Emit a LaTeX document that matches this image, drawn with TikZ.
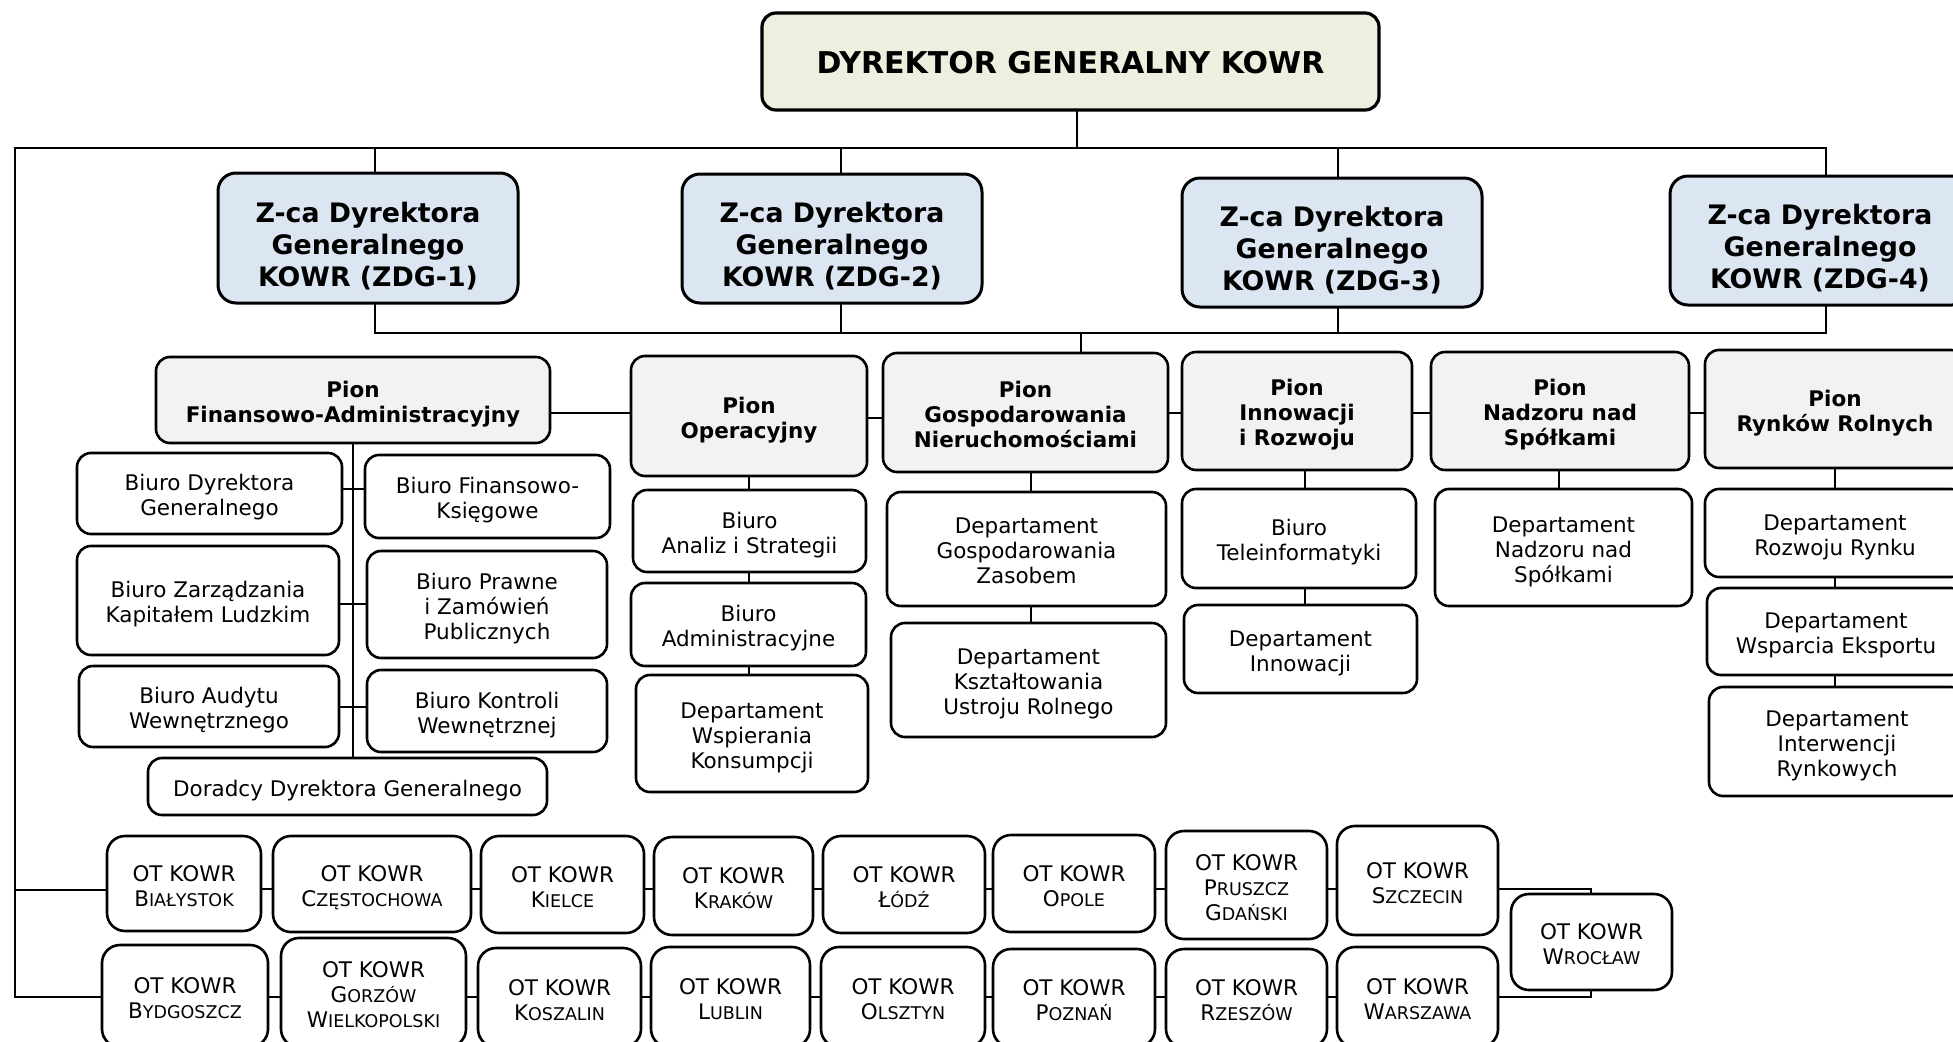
\documentclass[tikz,border=0pt]{standalone}
\usepackage{fontspec}
\setmainfont{DejaVu Sans}
\usetikzlibrary{calc}
\definecolor{dgfill}{HTML}{EBF1DE}
\definecolor{zfill}{HTML}{DCE6F2}
\definecolor{pfill}{HTML}{F2F2F2}
\newcommand\SC[2]{#1{\fontsize{17.5}{25}\selectfont #2}}
\def\tsh{4.5pt}
\newcommand\bx[7]{\node[#6, minimum width={#4-#2}, minimum height={#5-#3}] (#1) at ({(#2+#4)/2},{(#3+#5)/2}) {\raisebox{-\tsh}[\height][\depth]{\begin{tabular}{@{}c@{}}#7\end{tabular}}};}
\tikzset{
  box/.style={draw, line width=2.6pt, rounded corners=14pt, fill=white, inner sep=0pt, font=\fontsize{21.5}{25}\selectfont},
  dgbox/.style={box, fill=dgfill, line width=3.2pt, font=\fontsize{30}{36}\selectfont\bfseries, execute at begin node={\def\tsh{5pt}}},
  zbox/.style={box, fill=zfill, line width=3pt, rounded corners=18pt, font=\fontsize{26.8}{32}\selectfont\bfseries, execute at begin node={\def\tsh{10pt}}},
  pbox/.style={box, fill=pfill, font=\fontsize{21.5}{25}\selectfont\bfseries},
  otbox/.style={box, rounded corners=18pt, execute at begin node={\def\tsh{5pt}}},
  conn/.style={line width=2.2pt, line cap=rect}
}
\begin{document}
\begin{tikzpicture}[x=1pt,y=-1pt]
\useasboundingbox (0,0) rectangle (1953,1041);
\clip (0,0) rectangle (1953,1041);
% boxes
\bx{dg}{762}{13}{1379}{110}{dgbox}{DYREKTOR GENERALNY KOWR}
\bx{z1}{218}{173}{518}{303}{zbox}{Z-ca Dyrektora\\Generalnego\\KOWR (ZDG-1)}
\bx{z2}{682}{174}{982}{303}{zbox}{Z-ca Dyrektora\\Generalnego\\KOWR (ZDG-2)}
\bx{z3}{1182}{178}{1482}{307}{zbox}{Z-ca Dyrektora\\Generalnego\\KOWR (ZDG-3)}
\bx{z4}{1670}{176}{1970}{305}{zbox}{Z-ca Dyrektora\\Generalnego\\KOWR (ZDG-4)}
\bx{fa}{156}{357}{550}{443}{pbox}{Pion\\Finansowo-Administracyjny}
\bx{op}{631}{356}{867}{476}{pbox}{Pion\\Operacyjny}
\bx{gn}{883}{353}{1168}{472}{pbox}{Pion\\Gospodarowania\\Nieruchomościami}
\bx{ir}{1182}{352}{1412}{470}{pbox}{Pion\\Innowacji\\i Rozwoju}
\bx{nd}{1431}{352}{1689}{470}{pbox}{Pion\\Nadzoru nad\\Spółkami}
\bx{rr}{1705}{350}{1965}{468}{pbox}{Pion\\Rynków Rolnych}
\bx{bdg}{77}{453}{342}{534}{box}{Biuro Dyrektora\\Generalnego}
\bx{bfk}{365}{455}{610}{538}{box}{Biuro Finansowo-\\Księgowe}
\bx{bzk}{77}{546}{339}{655}{box}{Biuro Zarządzania\\Kapitałem Ludzkim}
\bx{bpz}{367}{551}{607}{658}{box}{Biuro Prawne\\i Zamówień\\Publicznych}
\bx{bau}{79}{666}{339}{747}{box}{Biuro Audytu\\Wewnętrznego}
\bx{bkw}{367}{670}{607}{752}{box}{Biuro Kontroli\\Wewnętrznej}
\bx{ddg}{148}{758}{547}{815}{box}{Doradcy Dyrektora Generalnego}
\bx{bas}{633}{490}{866}{572}{box}{Biuro\\Analiz i Strategii}
\bx{badm}{631}{583}{866}{666}{box}{Biuro\\Administracyjne}
\bx{dwk}{636}{675}{868}{792}{box}{Departament\\Wspierania\\Konsumpcji}
\bx{dgz}{887}{492}{1166}{606}{box}{Departament\\Gospodarowania\\Zasobem}
\bx{dks}{891}{623}{1166}{737}{box}{Departament\\Kształtowania\\Ustroju Rolnego}
\bx{bti}{1182}{489}{1416}{588}{box}{Biuro\\Teleinformatyki}
\bx{din}{1184}{605}{1417}{693}{box}{Departament\\Innowacji}
\bx{dns}{1435}{489}{1692}{606}{box}{Departament\\Nadzoru nad\\Spółkami}
\bx{drr}{1705}{489}{1965}{577}{box}{Departament\\Rozwoju Rynku}
\bx{dwe}{1707}{588}{1965}{675}{box}{Departament\\Wsparcia Eksportu}
\bx{dir}{1709}{687}{1965}{796}{box}{Departament\\Interwencji\\Rynkowych}
% OT row 1
\bx{bia}{107}{836}{261}{931}{otbox}{OT KOWR\\\SC{B}{IAŁYSTOK}}
\bx{cze}{273}{836}{471}{932}{otbox}{OT KOWR\\\SC{C}{ZĘSTOCHOWA}}
\bx{kie}{481}{836}{644}{933}{otbox}{OT KOWR\\\SC{K}{IELCE}}
\bx{kra}{654}{837}{813}{935}{otbox}{OT KOWR\\\SC{K}{RAKÓW}}
\bx{lod}{823}{836}{985}{933}{otbox}{OT KOWR\\\SC{Ł}{ÓDŹ}}
\bx{opo}{993}{835}{1155}{932}{otbox}{OT KOWR\\\SC{O}{POLE}}
\bx{pru}{1166}{831}{1327}{939}{otbox}{OT KOWR\\\SC{P}{RUSZCZ}\\\SC{G}{DAŃSKI}}
\bx{szc}{1337}{826}{1498}{935}{otbox}{OT KOWR\\\SC{S}{ZCZECIN}}
\bx{wro}{1511}{894}{1672}{990}{otbox}{OT KOWR\\\SC{W}{ROCŁAW}}
% OT row 2
\bx{byd}{102}{945}{268}{1047}{otbox}{OT KOWR\\\SC{B}{YDGOSZCZ}}
\bx{gor}{281}{938}{466}{1047}{otbox}{OT KOWR\\\SC{G}{ORZÓW}\\\SC{W}{IELKOPOLSKI}}
\bx{kos}{478}{948}{641}{1047}{otbox}{OT KOWR\\\SC{K}{OSZALIN}}
\bx{lub}{651}{947}{810}{1047}{otbox}{OT KOWR\\\SC{L}{UBLIN}}
\bx{ols}{821}{947}{985}{1047}{otbox}{OT KOWR\\\SC{O}{LSZTYN}}
\bx{poz}{993}{949}{1155}{1047}{otbox}{OT KOWR\\\SC{P}{OZNAŃ}}
\bx{rze}{1166}{949}{1327}{1047}{otbox}{OT KOWR\\\SC{R}{ZESZÓW}}
\bx{war}{1337}{947}{1498}{1047}{otbox}{OT KOWR\\\SC{W}{ARSZAWA}}
% coordinates
\coordinate (busL) at (15,148);
\coordinate (busR) at (1826,148);
\coordinate (t1) at (375,148);
\coordinate (t2) at (841,148);
\coordinate (t3) at (1338,148);
\coordinate (t4) at (1826,148);
\coordinate (dgj) at (1077,148);
\coordinate (b1) at (375,333);
\coordinate (b4) at (1826,333);
\coordinate (bg) at (1081,333);
\coordinate (L1) at (15,890);
\coordinate (L2) at (15,997);
\coordinate (r1) at (0,889);
\coordinate (r2) at (0,997);
\coordinate (wj1) at (1591,889);
\coordinate (wj2) at (1591,997);
% connectors
\draw[conn] (dgj |- dg.south) -- (dgj);
\draw[conn] (busL) -- (busR);
\draw[conn] (L2) -- (busL);
\foreach \t/\z in {t1/z1,t2/z2,t3/z3,t4/z4}{
  \draw[conn] (\t) -- (\t |- \z.north);
}
\draw[conn] (b1) -- (b4);
\foreach \t/\z in {t1/z1,t2/z2,t3/z3,t4/z4}{
  \draw[conn] (\t |- \z.south) -- (\t |- b1);
}
\draw[conn] (bg) -- (bg |- gn.north);
% pion row
\draw[conn] (fa.east |- 0,413) -- (op.west |- 0,413);
\draw[conn] (op.east |- 0,418) -- (gn.west |- 0,418);
\draw[conn] (gn.east |- 0,413) -- (ir.west |- 0,413);
\draw[conn] (ir.east |- 0,413) -- (nd.west |- 0,413);
\draw[conn] (nd.east |- 0,413) -- (rr.west |- 0,413);
% Fin-Adm column
\draw[conn] (fa.south) -- (fa.south |- ddg.north);
\draw[conn] (bdg.east |- 0,489) -- (bfk.west |- 0,489);
\draw[conn] (bzk.east |- 0,604) -- (bpz.west |- 0,604);
\draw[conn] (bau.east |- 0,707) -- (bkw.west |- 0,707);
% Operacyjny column
\draw[conn] (op.south) -- (op.south |- bas.north);
\draw[conn] (op.south |- bas.south) -- (op.south |- badm.north);
\draw[conn] (op.south |- badm.south) -- (op.south |- dwk.north);
% Gospodarowania column
\coordinate (gx) at (1031,0);
\draw[conn] (gx |- gn.south) -- (gx |- dgz.north);
\draw[conn] (gx |- dgz.south) -- (gx |- dks.north);
% Innowacji column
\coordinate (ix) at (1305,0);
\draw[conn] (ix |- ir.south) -- (ix |- bti.north);
\draw[conn] (ix |- bti.south) -- (ix |- din.north);
% Nadzoru column
\coordinate (nx) at (1559,0);
\draw[conn] (nx |- nd.south) -- (nx |- dns.north);
% Rynkow column
\coordinate (rx) at (1835,0);
\draw[conn] (rx |- rr.south) -- (rx |- drr.north);
\draw[conn] (rx |- drr.south) -- (rx |- dwe.north);
\draw[conn] (rx |- dwe.south) -- (rx |- dir.north);
% OT rows
\draw[conn] (L1) -- (bia.west |- L1);
\draw[conn] (L2) -- (byd.west |- L2);
\foreach \a/\b in {bia/cze,cze/kie,kie/kra,kra/lod,lod/opo,opo/pru,pru/szc}{
  \draw[conn] (\a.east |- r1) -- (\b.west |- r1);
}
\foreach \a/\b in {byd/gor,gor/kos,kos/lub,lub/ols,ols/poz,poz/rze,rze/war}{
  \draw[conn] (\a.east |- r2) -- (\b.west |- r2);
}
\draw[conn] (szc.east |- wj1) -- (wj1) -- (wj1 |- wro.north);
\draw[conn] (war.east |- wj2) -- (wj2) -- (wj2 |- wro.south);
\end{tikzpicture}
\end{document}
